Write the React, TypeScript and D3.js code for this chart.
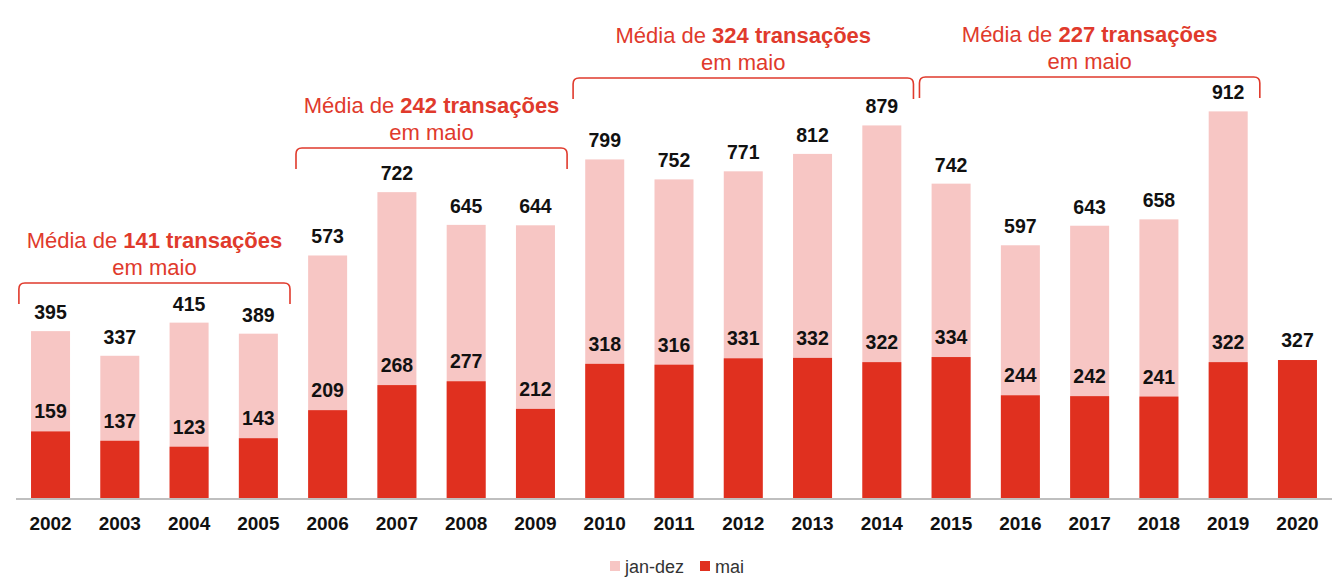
import React from "react";
import * as d3 from "d3";

const years = ["2002","2003","2004","2005","2006","2007","2008","2009","2010","2011","2012","2013","2014","2015","2016","2017","2018","2019","2020"];
const janDez: (number | null)[] = [395,337,415,389,573,722,645,644,799,752,771,812,879,742,597,643,658,912,null];
const mai = [159,137,123,143,209,268,277,212,318,316,331,332,322,334,244,242,241,322,327];

const groupAvg = ["141", "242", "324", "227"];
const groupStart = ["2002", "2006", "2010", "2015"];
const groupEnd = ["2005", "2009", "2014", "2019"];
const groupBracketY = [283, 148, 78, 77];

const legendLabels = ["jan-dez", "mai"];

const W = 1342, H = 581;
const COL_LIGHT = "#f7c6c4";
const COL_DARK = "#e0301f";
const COL_TITLE = "#e03a2c";
const FONT = "'Liberation Sans', Arial, sans-serif";

export default function App() {
  const x = d3.scaleBand<string>().domain(years).range([15.9, 1332.1]).paddingInner(0.437).paddingOuter(0.2185);
  const y = d3.scaleLinear().domain([0, 1000]).range([499, 74]);
  const band = d3.scaleBand<string>().domain(years).range([15.9, 1332.1]);

  return (
    <svg width={W} height={H} style={{ position: "absolute", left: 0, top: 0, background: "#fff" }} fontFamily={FONT}>
      {years.map((yr, i) => {
        const jd = janDez[i];
        const m = mai[i];
        const bx = x(yr)!;
        const bw = x.bandwidth();
        const cx = bx + bw / 2;
        return (
          <g key={yr}>
            {jd != null && (
              <rect x={bx} y={y(jd)} width={bw} height={y(0) - y(jd)} fill={COL_LIGHT} />
            )}
            <rect x={bx} y={y(m)} width={bw} height={y(0) - y(m)} fill={COL_DARK} />
            {jd != null && (
              <text x={cx} y={y(jd) - 12} textAnchor="middle" fontSize={19.5} fontWeight="bold" fill="#111">{jd}</text>
            )}
            <text x={cx} y={y(m) - 13} textAnchor="middle" fontSize={19.5} fontWeight="bold" fill="#111">{m}</text>
            <text x={cx} y={530} textAnchor="middle" fontSize={19} fontWeight="bold" fill="#111">{yr}</text>
          </g>
        );
      })}
      <line x1={16} x2={1332} y1={499} y2={499} stroke="#bfbfbf" strokeWidth={2} />

      {groupAvg.map((avg, g) => {
        const x0 = band(groupStart[g])! + 3;
        const x1 = band(groupEnd[g])! + band.bandwidth() - 3;
        const by = groupBracketY[g];
        const r = 6;
        const p = `M${x0},${by + 21} L${x0},${by + r} Q${x0},${by} ${x0 + r},${by} L${x1 - r},${by} Q${x1},${by} ${x1},${by + r} L${x1},${by + 21}`;
        const cx = (x0 + x1) / 2;
        return (
          <g key={g}>
            <path d={p} fill="none" stroke={COL_TITLE} strokeWidth={1.6} />
            <text x={cx} y={by - 35} textAnchor="middle" fontSize={22} fill={COL_TITLE}>
              Média de <tspan fontWeight="bold">{avg} transações</tspan>
            </text>
            <text x={cx} y={by - 8} textAnchor="middle" fontSize={22} fill={COL_TITLE}>em maio</text>
          </g>
        );
      })}

      <g>
        <rect x={610} y={561} width={10} height={10} fill={COL_LIGHT} />
        <text x={625} y={573} fontSize={18} fill="#333">{legendLabels[0]}</text>
        <rect x={700} y={561} width={10} height={10} fill={COL_DARK} />
        <text x={715} y={573} fontSize={18} fill="#333">{legendLabels[1]}</text>
      </g>
    </svg>
  );
}
